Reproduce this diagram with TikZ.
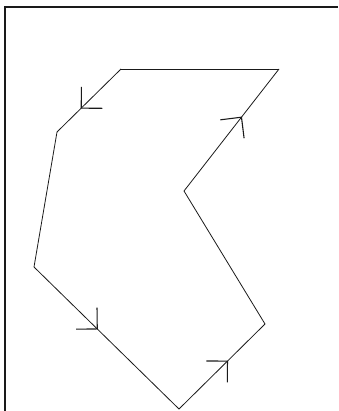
\documentclass[tikz,border=0pt]{standalone}
\usepackage{tikz}
\usetikzlibrary{arrows.meta,decorations.markings}
\definecolor{inkdark}{HTML}{1A1A1A}
\tikzset{
  frame/.style={draw=inkdark, line width=1.6pt},
  edge/.style={draw=inkdark, line width=0.8pt},
  tipat/.style={postaction={decorate, decoration={markings,
      mark=at position #1 with {\arrow[line width=1.1pt]{Straight Barb[length=15pt, width=30pt]}}}}},
}
\begin{document}
\begin{tikzpicture}[x=1pt, y=-1pt]
  \useasboundingbox (0,0) rectangle (338,411);
  % frame
  \draw[frame] (5,411) -- (5,7) -- (338,7);

  % corners of the outline
  \coordinate (a) at (121,69);
  \coordinate (b) at (279,69);
  \coordinate (c) at (184,191);
  \coordinate (d) at (265,324);
  \coordinate (e) at (179,409);
  \coordinate (f) at (34,267);
  \coordinate (g) at (57,132);

  \draw[edge, tipat=0.63] (a) -- (g);
  \draw[edge] (g) -- (f);
  \draw[edge, tipat=0.44] (f) -- (e);
  \draw[edge, tipat=0.57] (e) -- (d);
  \draw[edge] (d) -- (c);
  \draw[edge, tipat=0.61] (c) -- (b);
  \draw[edge] (b) -- (a);
\end{tikzpicture}
\end{document}
